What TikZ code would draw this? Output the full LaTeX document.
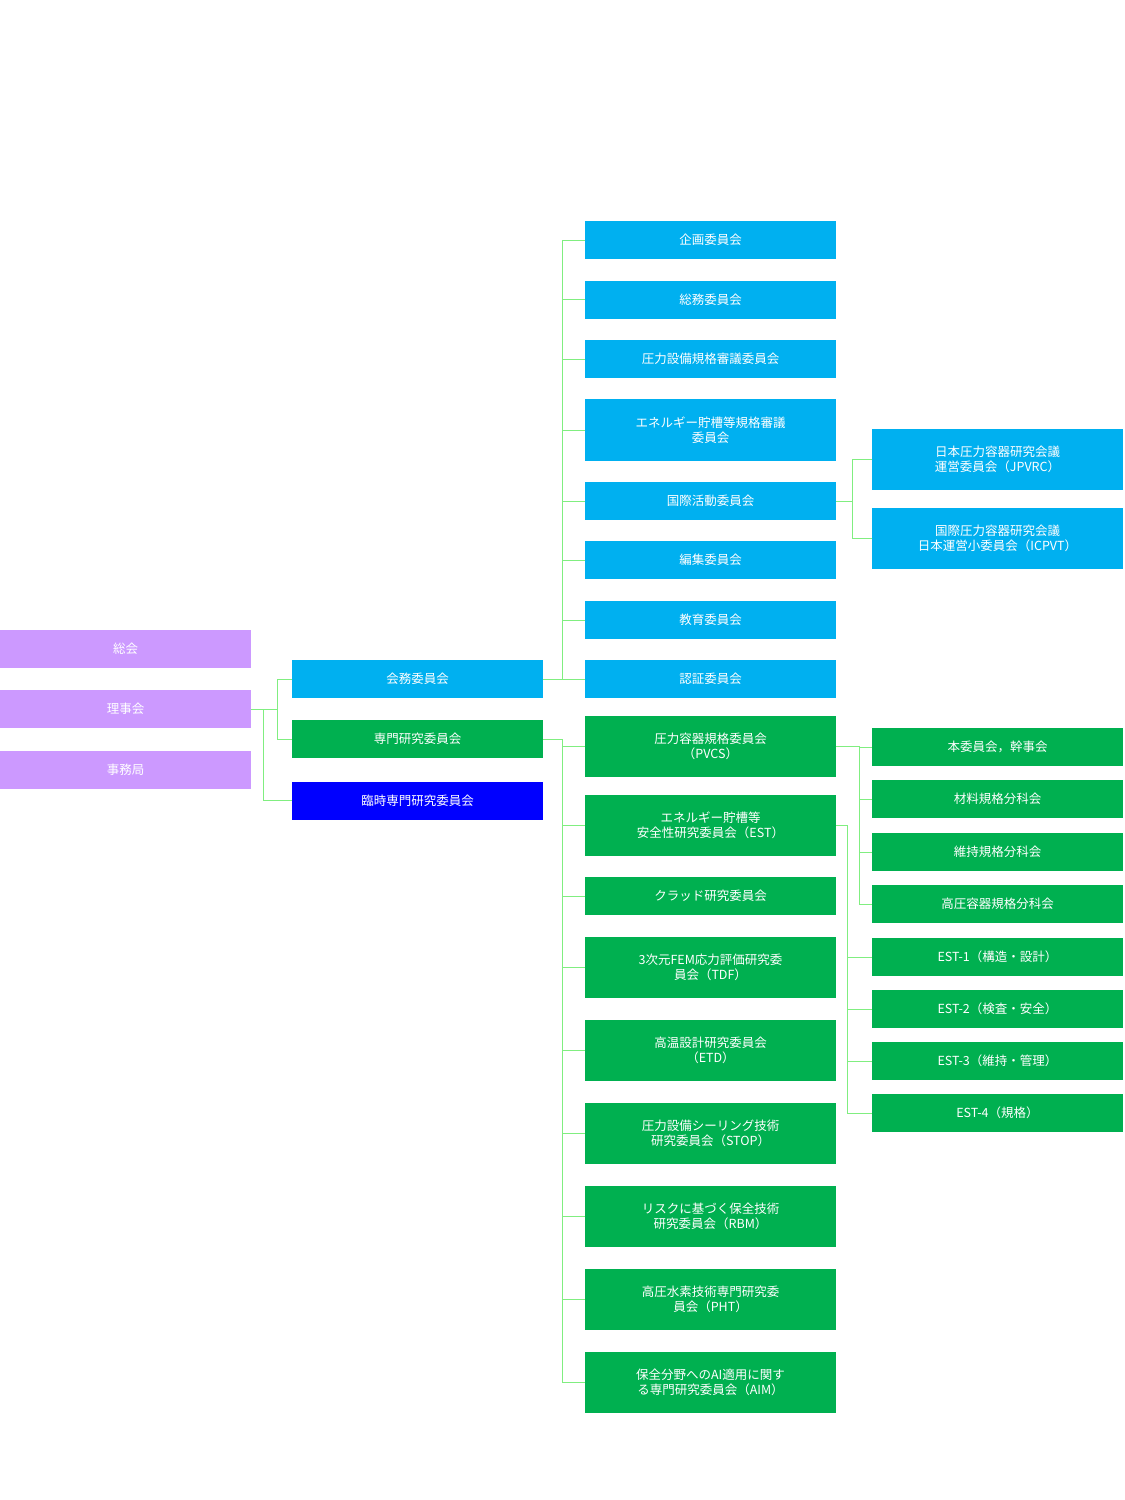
\documentclass[tikz,border=0pt]{standalone}
\usepackage{fontspec}
\newfontfamily\jp{Noto Sans CJK JP}
\definecolor{lila}{HTML}{CC99FF}
\definecolor{aqua}{HTML}{00B0F0}
\definecolor{midori}{HTML}{00B050}
\definecolor{ao}{HTML}{0000FF}
\definecolor{sen}{HTML}{80EE80}
\tikzset{
  box/.style={minimum width=251pt, minimum height=38pt, inner sep=0pt, text=white,
    align=center, font=\jp\fontsize{12.5}{15.5}\selectfont},
  tall/.style={box, minimum height=61pt},
  conn/.style={draw=sen, line width=1pt}
}
\begin{document}
\begin{tikzpicture}[x=1pt, y=-1pt]
		\useasboundingbox (0,0) rectangle (1125,1500);
		% left column
		\node[box, fill=lila] (sokai) at (125.5,649) {総会};
		\node[box, fill=lila] (riji) at (125.5,709) {理事会};
		\node[box, fill=lila] (jimu) at (125.5,769.5) {事務局};
		% second column
		\node[box, fill=aqua] (kaimu) at (417.5,679) {会務委員会};
		\node[box, fill=midori] (senmon) at (417.5,739) {専門研究委員会};
		\node[box, fill=ao] (rinji) at (417.5,800.5) {臨時専門研究委員会};
		% third column
		\node[box, fill=aqua] (kikaku) at (710.5,240) {企画委員会};
		\node[box, fill=aqua] (somu) at (710.5,299.5) {総務委員会};
		\node[box, fill=aqua] (shingi) at (710.5,359) {圧力設備規格審議委員会};
		\node[tall, fill=aqua, minimum height=62pt] (choso) at (710.5,430) {エネルギー貯槽等規格審議\\委員会};
		\node[box, fill=aqua] (kokusai) at (710.5,501) {国際活動委員会};
		\node[box, fill=aqua] (henshu) at (710.5,560) {編集委員会};
		\node[box, fill=aqua] (kyoiku) at (710.5,620) {教育委員会};
		\node[box, fill=aqua] (ninsho) at (710.5,679) {認証委員会};
		\node[tall, fill=midori] (pvcs) at (710.5,746.5) {圧力容器規格委員会\\（PVCS）};
		\node[tall, fill=midori] (est) at (710.5,825.5) {エネルギー貯槽等\\安全性研究委員会（EST）};
		\node[box, fill=midori] (clad) at (710.5,896) {クラッド研究委員会};
		\node[tall, fill=midori] (tdf) at (710.5,967.5) {3次元FEM応力評価研究委\\員会（TDF）};
		\node[tall, fill=midori] (etd) at (710.5,1050.5) {高温設計研究委員会\\（ETD）};
		\node[tall, fill=midori] (stop) at (710.5,1133.5) {圧力設備シーリング技術\\研究委員会（STOP）};
		\node[tall, fill=midori] (rbm) at (710.5,1216.5) {リスクに基づく保全技術\\研究委員会（RBM）};
		\node[tall, fill=midori] (pht) at (710.5,1299.5) {高圧水素技術専門研究委\\員会（PHT）};
		\node[tall, fill=midori] (aim) at (710.5,1382.5) {保全分野へのAI適用に関す\\る専門研究委員会（AIM）};
		% fourth column
		\node[tall, fill=aqua] (jpvrc) at (997.5,459.5) {日本圧力容器研究会議\\運営委員会（JPVRC）};
		\node[tall, fill=aqua] (icpvt) at (997.5,538.5) {国際圧力容器研究会議\\日本運営小委員会（ICPVT）};
		\node[box, fill=midori] (hon) at (997.5,747) {本委員会，幹事会};
		\node[box, fill=midori] (zairyo) at (997.5,799) {材料規格分科会};
		\node[box, fill=midori] (iji) at (997.5,852) {維持規格分科会};
		\node[box, fill=midori] (koatsu) at (997.5,904) {高圧容器規格分科会};
		\node[box, fill=midori] (esta) at (997.5,957) {EST-1（構造・設計）};
		\node[box, fill=midori] (estb) at (997.5,1009) {EST-2（検査・安全）};
		\node[box, fill=midori] (estc) at (997.5,1061) {EST-3（維持・管理）};
		\node[box, fill=midori] (estd) at (997.5,1113) {EST-4（規格）};
		% connectors
		\draw[conn] (rinji.west) -- ++(-28,0) |- (riji.east);
		\foreach \n in {kaimu,senmon}
			\draw[conn] (\n.west) -- ++(-14,0) |- (riji.east);
		\foreach \n in {kikaku,somu,shingi,choso,kokusai,henshu,kyoiku,ninsho}
			\draw[conn] (\n.west) -- ++(-22,0) |- (kaimu.east);
		\foreach \n in {pvcs,est,clad,tdf,etd,stop,rbm,pht,aim}
			\draw[conn] (\n.west) -- ++(-22,0) |- (senmon.east);
		\foreach \n in {jpvrc,icpvt}
			\draw[conn] (\n.west) -- ++(-19,0) |- (kokusai.east);
		\foreach \n in {hon,zairyo,iji,koatsu}
			\draw[conn] (\n.west) -- ++(-12,0) |- (pvcs.east);
		\foreach \n in {esta,estb,estc,estd}
			\draw[conn] (\n.west) -- ++(-24,0) |- (est.east);
\end{tikzpicture}
\end{document}
